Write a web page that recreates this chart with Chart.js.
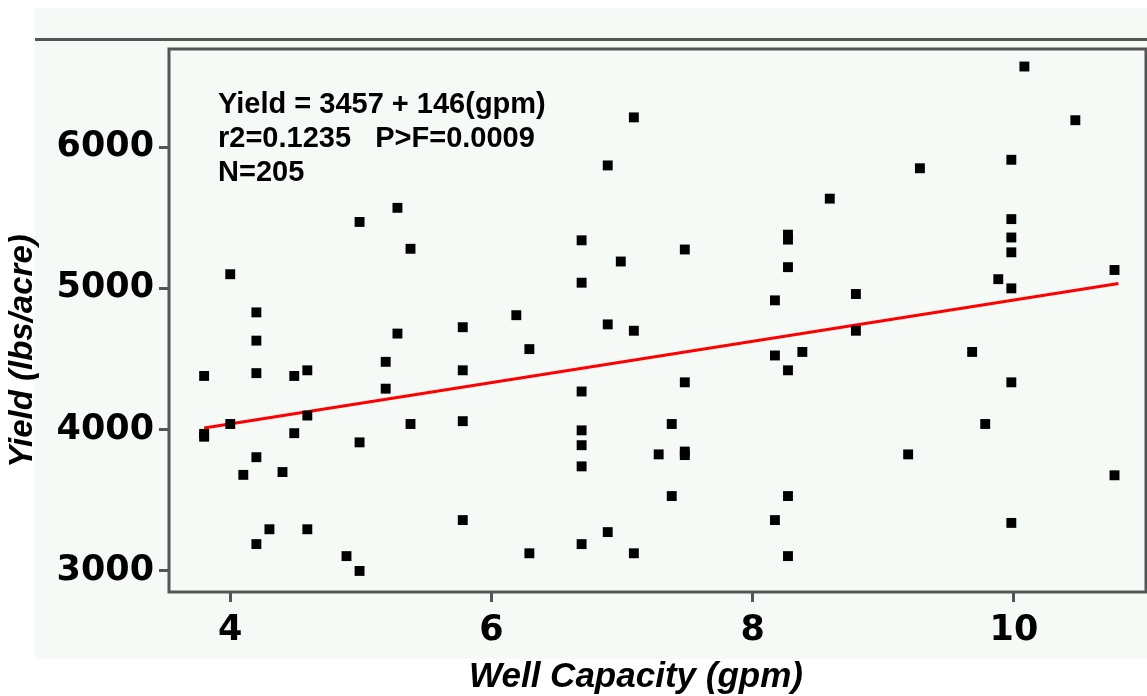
<!DOCTYPE html>
<html>
<head>
<meta charset="utf-8">
<script src="https://cdn.jsdelivr.net/npm/chart.js@4"></script>
<style>
  body { margin: 0; background: #fff; }
  #wrap { width: 1147px; height: 696px; }
</style>
</head>
<body>
<div id="wrap"><canvas id="yieldChart" width="1147" height="696"></canvas></div>
<script>
// Well capacity (gpm) vs yield (lbs/acre)
const gpm = [
  5.28, 4.99, 5.38, 4.0, 4.2, 4.2, 5.28, 5.19, 3.8, 4.2,
  4.49, 4.59, 5.19, 4.59, 4.0, 3.8, 3.8, 5.38, 4.49, 4.99,
  4.2, 4.1, 4.4, 4.3, 4.59, 4.2, 4.89, 4.99, 6.69, 6.99,
  6.69, 6.19, 5.78, 6.89, 7.09, 6.29, 5.78, 6.69, 5.78, 6.69,
  6.69, 7.28, 6.69, 5.78, 6.89, 6.69, 6.29, 7.09, 7.09, 6.89,
  10.08, 10.47, 9.98, 9.28, 8.59, 9.98, 8.27, 8.27, 9.98, 7.48,
  9.98, 8.27, 10.77, 9.88, 9.98, 8.17, 8.79, 8.79, 8.17, 8.38,
  9.68, 8.27, 7.48, 9.98, 7.38, 9.78, 7.48, 7.48, 9.19, 10.77,
  7.38, 8.27, 8.17, 9.98, 8.27
];
const yieldLbs = [
  5570, 5470, 5280, 5100, 4830, 4630, 4680, 4480, 4380, 4400,
  4380, 4420, 4290, 4100, 4040, 3970, 3950, 4040, 3975, 3910,
  3805, 3680, 3700, 3295, 3295, 3190, 3105, 3000, 5340, 5190,
  5040, 4810, 4725, 4745, 4700, 4570, 4420, 4270, 4060, 3995,
  3890, 3825, 3740, 3360, 3275, 3190, 3125, 3125, 6210, 5870,
  6570, 6190, 5910, 5850, 5635, 5490, 5380, 5345, 5360, 5275,
  5255, 5150, 5130, 5065, 5000, 4915, 4960, 4700, 4525, 4550,
  4550, 4420, 4335, 4335, 4040, 4040, 3845, 3820, 3825, 3677,
  3530, 3530, 3360, 3340, 3105
];
// fitted line end points
const fitX = [3.8, 10.8];
const fitY = [4012, 5034];

const xTicks = [4, 6, 8, 10];
const yTicks = [3000, 4000, 5000, 6000];

const fitLabel = ['Yield = 3457 + 146(gpm)', 'r2=0.1235   P>F=0.0009', 'N=205'];
const xTitle = 'Well Capacity (gpm)';
const yTitle = 'Yield (lbs/acre)';

const frameColor = '#555555';
const panelColor = '#f5faf7';

// background panel, frame and the text block
const decor = {
  id: 'decor',
  beforeDraw(chart) {
    const ctx = chart.ctx;
    ctx.save();
    ctx.fillStyle = '#ffffff';
    ctx.fillRect(0, 0, chart.width, chart.height);
    ctx.fillStyle = panelColor;
    ctx.fillRect(35, 8, chart.width - 35, 651);
    ctx.strokeStyle = frameColor;
    ctx.lineWidth = 3;
    ctx.beginPath();
    ctx.moveTo(35, 39.5);
    ctx.lineTo(chart.width, 39.5);
    ctx.stroke();
    ctx.restore();
  },
  afterDraw(chart) {
    const ctx = chart.ctx;
    const a = chart.chartArea;
    ctx.save();
    ctx.strokeStyle = frameColor;
    ctx.lineWidth = 3;
    ctx.strokeRect(a.left, a.top, a.right - a.left, a.bottom - a.top);

    ctx.fillStyle = '#000';
    ctx.font = 'bold 29px "Liberation Sans", Arial, sans-serif';
    ctx.textAlign = 'left';
    ctx.textBaseline = 'alphabetic';
    fitLabel.forEach((t, i) => ctx.fillText(t, 218, 113 + i * 34));

    ctx.font = 'italic bold 35px "Liberation Sans", Arial, sans-serif';
    ctx.textAlign = 'center';
    ctx.textBaseline = 'middle';
    ctx.fillText(xTitle, 636, 677);

    ctx.font = 'italic bold 33px "Liberation Sans", Arial, sans-serif';
    ctx.translate(23, 351);
    ctx.rotate(-Math.PI / 2);
    ctx.fillText(yTitle, 0, 0);
    ctx.restore();
  }
};

const points = gpm.map((x, i) => ({ x: x, y: yieldLbs[i] }));
const fitLine = fitX.map((x, i) => ({ x: x, y: fitY[i] }));

new Chart(document.getElementById('yieldChart'), {
  type: 'scatter',
  data: {
    datasets: [
      {
        label: 'Yield',
        data: points,
        pointStyle: 'rect',
        pointRadius: 7,
        pointBorderWidth: 0,
        backgroundColor: '#000000',
        borderColor: '#000000',
        order: 0
      },
      {
        type: 'line',
        label: 'Fit',
        data: fitLine,
        borderColor: '#ff0000',
        borderWidth: 3,
        pointRadius: 0,
        fill: false,
        order: 1
      }
    ]
  },
  options: {
    responsive: false,
    devicePixelRatio: 1,
    animation: false,
    layout: { autoPadding: false, padding: { top: 49, right: 1, left: 0, bottom: 0 } },
    plugins: {
      legend: { display: false },
      tooltip: { enabled: false }
    },
    scales: {
      x: {
        type: 'linear',
        min: 3.531,
        max: 11.011,
        afterFit: (s) => { s.height = 104; },
        afterBuildTicks: (s) => { s.ticks = xTicks.map(v => ({ value: v })); },
        grid: {
          drawOnChartArea: false,
          tickLength: 10,
          tickWidth: 3,
          tickColor: frameColor
        },
        border: { display: false },
        ticks: {
          padding: 8,
          color: '#000',
          font: { family: 'DejaVu Sans', weight: 'bold', size: 35 },
          callback: (v) => String(v)
        }
      },
      y: {
        type: 'linear',
        min: 2851,
        max: 6694,
        afterFit: (s) => { s.width = 169; },
        afterBuildTicks: (s) => { s.ticks = yTicks.map(v => ({ value: v })); },
        grid: {
          drawOnChartArea: false,
          tickLength: 10,
          tickWidth: 3,
          tickColor: frameColor
        },
        border: { display: false },
        ticks: {
          padding: 5,
          color: '#000',
          font: { family: 'DejaVu Sans', weight: 'bold', size: 35 },
          callback: (v) => String(v)
        }
      }
    }
  },
  plugins: [decor]
});
</script>
</body>
</html>
